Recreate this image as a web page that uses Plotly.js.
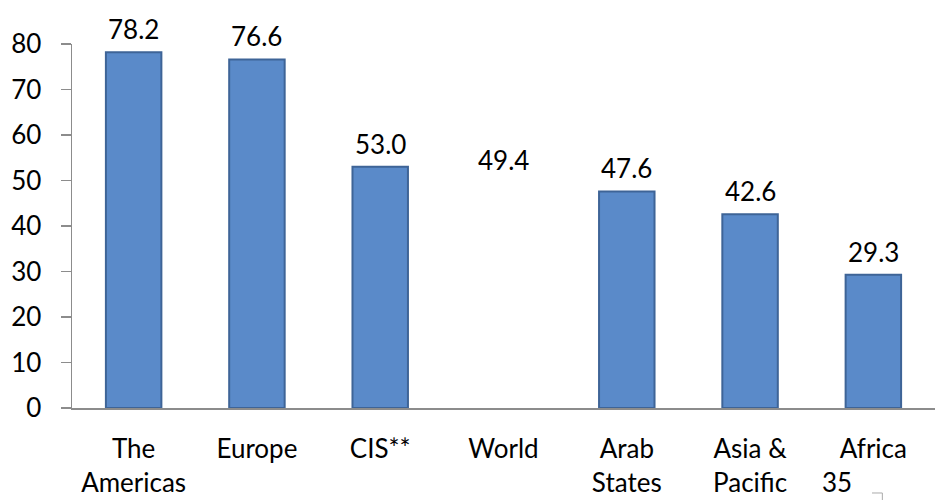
<!DOCTYPE html>
<html><head><meta charset="utf-8">
<script src="https://cdn.plot.ly/plotly-3.0.1.min.js"></script>
<style>html,body{margin:0;padding:0;background:#fff;}#chart{width:940px;height:500px;}</style>
</head><body><div id="chart"></div>
<script>
const categories = ["The<br>Americas", "Europe", "CIS**", "World", "Arab<br>States", "Asia &<br>Pacific", "Africa"];
const values = [78.2, 76.6, 53.0, 49.4, 47.6, 42.6, 29.3];
const labels = ["78.2", "76.6", "53.0", "49.4", "47.6", "42.6", "29.3"];
const hidden = ["World"];
const yTicks = [0, 10, 20, 30, 40, 50, 60, 70, 80];

const fill = categories.map(c => hidden.includes(c) ? "rgba(0,0,0,0)" : "#5A8AC9");
const edge = categories.map(c => hidden.includes(c) ? "rgba(0,0,0,0)" : "#3E6497");

const font = {family: "Lato, 'Liberation Sans', sans-serif", size: 26, color: "#000"};

const valueNotes = categories.map((c, i) => ({
  x: c, y: values[i], xref: "x", yref: "y", text: labels[i], showarrow: false,
  yanchor: "bottom", yshift: 5, font: font
}));

Plotly.newPlot("chart", [{
  type: "bar",
  x: categories,
  y: values,
  marker: {color: fill, line: {color: edge, width: 2}},
  hoverinfo: "none"
}], {
  width: 940, height: 500,
  margin: {l: 72, r: 5, t: 44, b: 92},
  paper_bgcolor: "#fff", plot_bgcolor: "#fff",
  bargap: 0.55,
  showlegend: false,
  font: font,
  xaxis: {type: "category", showline: true, linecolor: "#8c8c8c", linewidth: 1.5, ticks: "", showgrid: false, tickfont: font, ticklabelstandoff: 17},
  yaxis: {range: [0, 80], tickvals: yTicks, showline: true, linecolor: "#8c8c8c", linewidth: 1.5, ticks: "outside", ticklen: 10, tickcolor: "#8c8c8c", tickwidth: 1.5, showgrid: false, zeroline: false, tickfont: font, ticklabelstandoff: 14},
  annotations: valueNotes.concat([{xref: "paper", yref: "paper", x: 0.886, y: -0.203, text: "35", showarrow: false, font: font, xanchor: "center", yanchor: "middle"}]),
  shapes: [{type: "path", xref: "paper", yref: "paper", path: "M 0.927 -0.2335 L 0.939 -0.2335 L 0.939 -0.255", line: {color: "#aaa", width: 1}}]
}, {staticPlot: true});
</script></body></html>
